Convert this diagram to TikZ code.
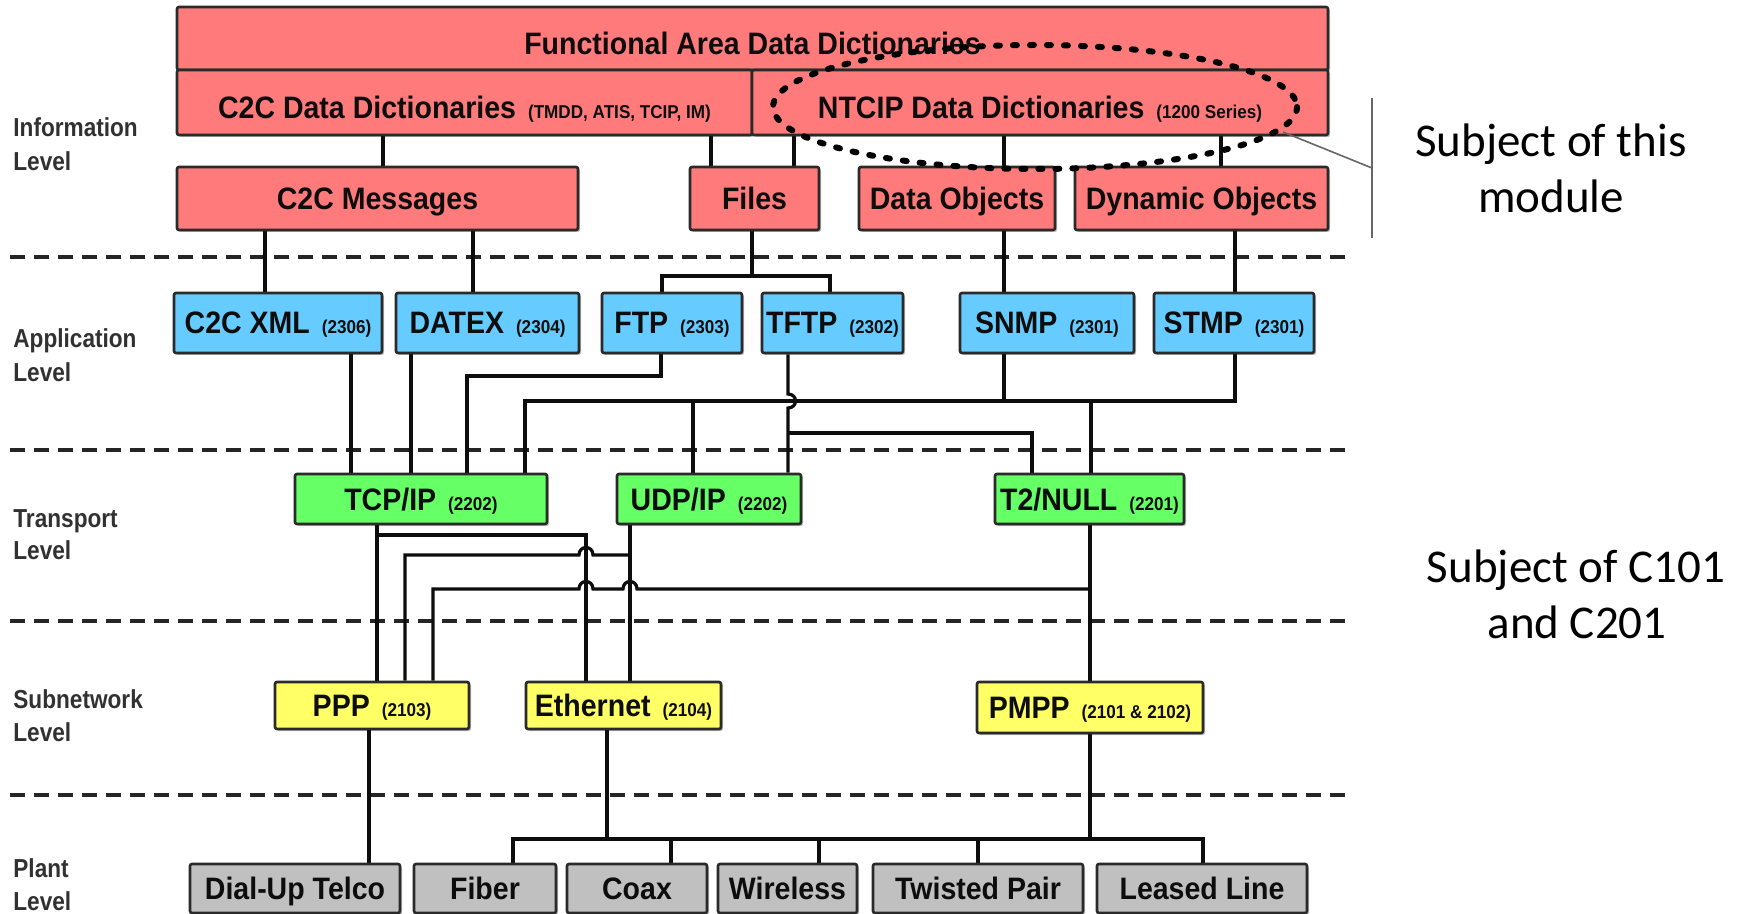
\documentclass[tikz,border=0pt]{standalone}
\usepackage{fontspec}
\usetikzlibrary{shadows}
\newfontfamily\mainf[FakeStretch=0.92]{Liberation Sans}
\newfontfamily\smallf[FakeStretch=0.92]{Liberation Sans}
\newfontfamily\lvlf[FakeStretch=0.87]{Liberation Sans}
\newfontfamily\calf{Carlito}
\definecolor{rbox}{HTML}{FF7B7B}
\definecolor{bbox}{HTML}{66CCFF}
\definecolor{gbox}{HTML}{66FF66}
\definecolor{ybox}{HTML}{FFFF66}
\definecolor{kbox}{HTML}{C0C0C0}
\definecolor{edgec}{HTML}{2A2A2A}
\definecolor{ink}{HTML}{0D0D0D}
\newcommand\boxlbl[2]{#1\hspace{6pt}{\smallf\fontsize{9.3}{10}\selectfont\bfseries #2}}
\pgfdeclarelayer{bg}
\pgfsetlayers{bg,main}
\begin{document}
\begin{tikzpicture}[x=0.5pt,y=-0.5pt,
  box/.style={draw=edgec, line width=1.3pt, rounded corners=1pt, inner sep=0pt,
    text height=11pt, text depth=0pt, text=ink, anchor=center,
    font=\mainf\fontsize{15.5}{18}\selectfont\bfseries,
    drop shadow={shadow xshift=1pt, shadow yshift=-1pt, fill=black, opacity=0.25}},
  rb/.style={box, fill=rbox},
  bb/.style={box, fill=bbox, minimum height=30pt},
  gb/.style={box, fill=gbox, minimum height=25pt},
  yb/.style={box, fill=ybox, minimum height=23.5pt},
  kb/.style={box, fill=kbox, minimum height=24.5pt},
  conn/.style={draw=ink, line width=1.6pt},
  sep/.style={draw=ink!90, line width=2pt, dash pattern=on 7.5pt off 4.5pt},
  lvl/.style={anchor=base west, inner sep=0pt, font=\lvlf\fontsize{13}{15}\selectfont\bfseries, text=ink!85},
  note/.style={anchor=base, inner sep=0pt, font=\calf\fontsize{23.5}{28}\selectfont, text=black},
  hilite/.style={draw=black, line width=3pt, line cap=round, dash pattern=on 2pt off 6.5pt}
]
\useasboundingbox (0,0) rectangle (1744,914);

% ---------- boxes ----------
% information level
\node[rb, minimum width=575.5pt, minimum height=31.5pt] (fad) at (752.5,38.5) {\raisebox{-2.5pt}{Functional Area Data Dictionaries}};
\node[rb, minimum width=287.5pt, minimum height=32.5pt] (c2cdd) at (464.5,102.5) {\raisebox{-2.5pt}{\boxlbl{C2C Data Dictionaries}{(TMDD, ATIS, TCIP, IM)}}};
\node[rb, minimum width=288pt, minimum height=32.5pt] (ntcip) at (1040,102.5) {\raisebox{-2.5pt}{\boxlbl{NTCIP Data Dictionaries}{(1200 Series)}}};
\node[rb, minimum width=200.5pt, minimum height=31.5pt] (c2cmsg) at (377.5,198.5) {C2C Messages};
\node[rb, minimum width=64.5pt, minimum height=31.5pt] (files) at (754.5,198.5) {Files};
\node[rb, minimum width=98pt, minimum height=31.5pt] (dataobj) at (957,198.5) {Data Objects};
\node[rb, minimum width=126.5pt, minimum height=31.5pt] (dynobj) at (1201.5,198.5) {Dynamic Objects};
% application level
\node[bb, minimum width=104pt] (c2cxml) at (278,323) {\boxlbl{C2C XML}{(2306)}};
\node[bb, minimum width=91.5pt] (datex) at (487.5,323) {\boxlbl{DATEX}{(2304)}};
\node[bb, minimum width=70pt] (ftp) at (672,323) {\boxlbl{FTP}{(2303)}};
\node[bb, minimum width=70.5pt] (tftp) at (832.5,323) {\boxlbl{TFTP}{(2302)}};
\node[bb, minimum width=87pt] (snmp) at (1047,323) {\boxlbl{SNMP}{(2301)}};
\node[bb, minimum width=80pt] (stmp) at (1234,323) {\boxlbl{STMP}{(2301)}};
% transport level
\node[gb, minimum width=126pt] (tcp) at (421,499) {\boxlbl{TCP/IP}{(2202)}};
\node[gb, minimum width=92pt] (udp) at (709,499) {\boxlbl{UDP/IP}{(2202)}};
\node[gb, minimum width=94.5pt] (t2null) at (1089.5,499) {\boxlbl{T2/NULL}{(2201)}};
% subnetwork level
\node[yb, minimum width=97pt] (ppp) at (372,705.5) {\boxlbl{PPP}{(2103)}};
\node[yb, minimum width=97.5pt] (eth) at (623.5,705.5) {\boxlbl{Ethernet}{(2104)}};
\node[yb, minimum width=113pt, minimum height=25.5pt] (pmpp) at (1090,707.5) {\boxlbl{PMPP}{(2101 \& 2102)}};
% plant level
\node[kb, minimum width=105pt] (dialup) at (295,888.5) {Dial-Up Telco};
\node[kb, minimum width=71pt] (fiber) at (485,888.5) {Fiber};
\node[kb, minimum width=70pt] (coax) at (637,888.5) {Coax};
\node[kb, minimum width=69.5pt] (wireless) at (787.5,888.5) {Wireless};
\node[kb, minimum width=105pt] (twisted) at (978,888.5) {Twisted Pair};
\node[kb, minimum width=105pt] (leased) at (1202,888.5) {Leased Line};

% ---------- level labels ----------
\node[lvl] (l1a) at (13,137) {Information};
\node[lvl] (l1b) at (13,171) {Level};
\node[lvl] (l2a) at (13,348) {Application};
\node[lvl] (l2b) at (13,381) {Level};
\node[lvl] (l3a) at (13,527) {Transport};
\node[lvl] (l3b) at (13,559) {Level};
\node[lvl] (l4a) at (13,708) {Subnetwork};
\node[lvl] (l4b) at (13,741) {Level};
\node[lvl] (l5a) at (13,877) {Plant};
\node[lvl] (l5b) at (13,910) {Level};

% ---------- right notes ----------
\node[note] (n1a) at (1551,157) {Subject of this};
\node[note] (n1b) at (1551,213) {module};
\node[note] (n2a) at (1576,582) {Subject of C101};
\node[note] (n2b) at (1577,638) {and C201};

% highlight ellipse and bracket
\draw[hilite] (1035,107) ellipse [x radius=262, y radius=62];
\coordinate (brtop) at (1372,98);
\coordinate (brbot) at (1372,238);
\coordinate (brmid) at (1372,168);
\coordinate (elpt) at (1283,132);
\draw[black!60, line width=0.8pt] (brtop) -- (brbot);
\draw[black!60, line width=0.8pt] (elpt) -- (brmid);

\begin{pgfonlayer}{bg}
\fill[white] (0,0) rectangle (1744,914);
% level separators
\foreach \yy/\nm in {257/s1,450/s2,621/s3,795/s4}{
  \coordinate (\nm a) at (10,\yy);
  \coordinate (\nm b) at (1346,\yy);
  \draw[sep] (\nm a) -- (\nm b);
}
% information level connectors
\draw[conn] (c2cdd.south -| 383,0) -- (c2cmsg.north -| 383,0);
\draw[conn] (c2cdd.south -| 711,0) -- (files.north -| 711,0);
\draw[conn] (ntcip.south -| 794,0) -- (files.north -| 794,0);
\draw[conn] (ntcip.south -| 1004,0) -- (dataobj.north -| 1004,0);
\draw[conn] (ntcip.south -| 1221,0) -- (dynobj.north -| 1221,0);
% info -> application
\draw[conn] (c2cmsg.south -| 265,0) -- (c2cxml.north -| 265,0);
\draw[conn] (c2cmsg.south -| 473,0) -- (datex.north -| 473,0);
\draw[conn] (files.south -| 752,0) -- (752,276);
\draw[conn] (ftp.north -| 662,0) |- (830,276) -- (tftp.north -| 830,0);
\draw[conn] (dataobj.south -| 1004,0) -- (snmp.north -| 1004,0);
\draw[conn] (dynobj.south -| 1235,0) -- (stmp.north -| 1235,0);
% application -> transport
\draw[conn] (c2cxml.south -| 351,0) -- (tcp.north -| 351,0);
\draw[conn] (datex.south -| 411,0) -- (tcp.north -| 411,0);
\draw[conn] (ftp.south -| 661,0) |- (467,376) -- (tcp.north -| 467,0);
\draw[conn] (snmp.south -| 1004,0) -- (1004,401);
\draw[conn] (stmp.south -| 1235,0) |- (525,401) -- (tcp.north -| 525,0);
\draw[conn] (693,401) -- (udp.north -| 693,0);
\draw[conn] (1091,401) -- (t2null.north -| 1091,0);
\draw[conn] (tftp.south -| 788,0) -- (788,394) .. controls (798,394) and (798,408) .. (788,408) -- (udp.north -| 788,0);
\draw[conn] (788,433) -- (1032,433) -- (t2null.north -| 1032,0);
% transport -> subnetwork
\draw[conn] (tcp.south -| 377,0) -- (ppp.north -| 377,0);
\draw[conn] (377,535) -| (eth.north -| 586,0);
\draw[conn] (udp.south -| 630,0) -- (eth.north -| 630,0);
\draw[conn] (630,555) -- (593,555) .. controls (593,545) and (579,545) .. (579,555) -- (405,555) -- (ppp.north -| 405,0);
\draw[conn] (t2null.south -| 1090,0) -- (pmpp.north -| 1090,0);
\draw[conn] (1090,589) -- (637,589) .. controls (637,579) and (623,579) .. (623,589)
   -- (593,589) .. controls (593,579) and (579,579) .. (579,589) -- (433,589) -- (ppp.north -| 433,0);
% subnetwork -> plant
\draw[conn] (ppp.south -| 369,0) -- (dialup.north -| 369,0);
\draw[conn] (eth.south -| 607,0) -- (607,839);
\draw[conn] (pmpp.south -| 1090,0) -- (1090,839);
\draw[conn] (fiber.north -| 513,0) |- (1203,839) -- (leased.north -| 1203,0);
\draw[conn] (671,839) -- (coax.north -| 671,0);
\draw[conn] (819,839) -- (wireless.north -| 819,0);
\draw[conn] (978,839) -- (twisted.north -| 978,0);
\end{pgfonlayer}
\end{tikzpicture}
\end{document}
